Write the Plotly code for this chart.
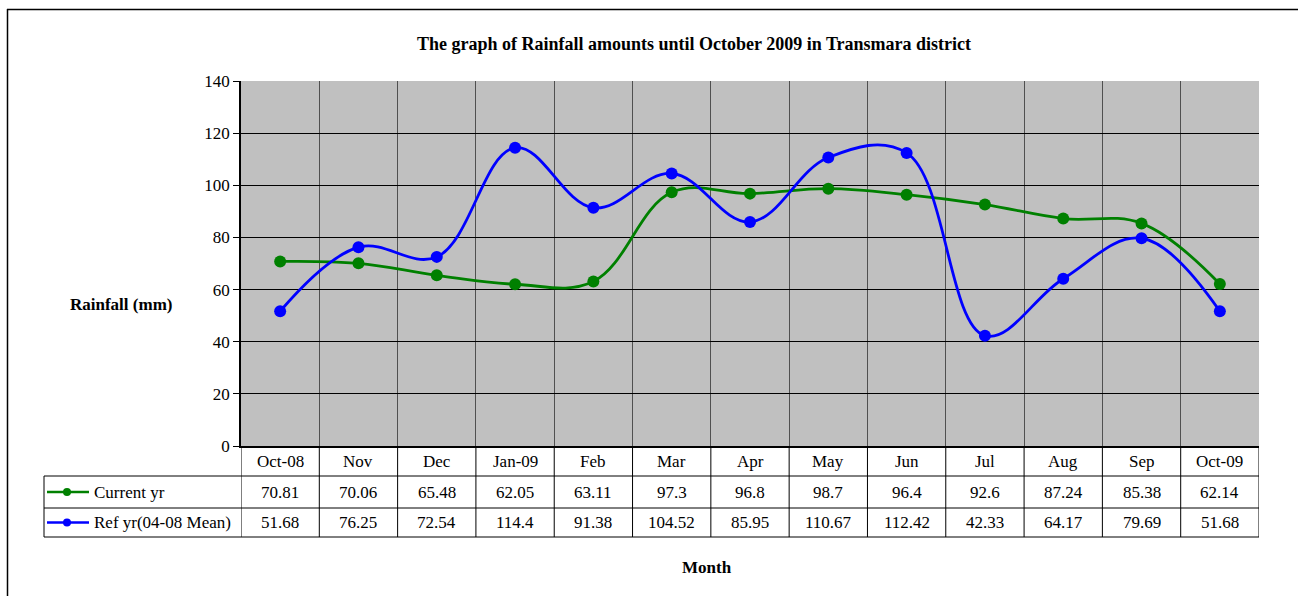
import plotly.graph_objects as go

months = ["Oct-08", "Nov", "Dec", "Jan-09", "Feb", "Mar", "Apr", "May", "Jun", "Jul", "Aug", "Sep", "Oct-09"]
current_yr = [70.81, 70.06, 65.48, 62.05, 63.11, 97.3, 96.8, 98.7, 96.4, 92.6, 87.24, 85.38, 62.14]
ref_yr = [51.68, 76.25, 72.54, 114.4, 91.38, 104.52, 85.95, 110.67, 112.42, 42.33, 64.17, 79.69, 51.68]
current_labels = ["70.81", "70.06", "65.48", "62.05", "63.11", "97.3", "96.8", "98.7", "96.4", "92.6", "87.24", "85.38", "62.14"]
ref_labels = ["51.68", "76.25", "72.54", "114.4", "91.38", "104.52", "85.95", "110.67", "112.42", "42.33", "64.17", "79.69", "51.68"]
series_names = ["Current yr", "Ref yr(04-08 Mean)"]
series_colors = ["#008000", "#0000FF"]

W, H = 1298, 596
L, R, T, B = 241, 39, 81, 150
PW, PH = W - L - R, H - T - B
FONT = "Liberation Serif"
TS = 17

def px(x):
    return (x - L) / PW

def py(y):
    return (H - B - y) / PH

xi = list(range(len(months)))

fig = go.Figure()
for name, vals, col in zip(series_names, [current_yr, ref_yr], series_colors):
    fig.add_trace(go.Scatter(
        x=xi, y=vals, name=name, mode="lines+markers",
        line=dict(color=col, width=2.8, shape="spline", smoothing=1.1),
        marker=dict(color=col, size=12), showlegend=False, cliponaxis=False))

shapes = []
ann = []
line_col = "#000000"
y_top, y_h1, y_r1, y_r2 = 446, 476, 508, 537
for yy in (y_h1, y_r1, y_r2):
    shapes.append(dict(type="line", xref="paper", yref="paper", x0=px(44), x1=1,
                       y0=py(yy), y1=py(yy), line=dict(color=line_col, width=1)))
for i in range(len(months) + 1):
    shapes.append(dict(type="line", xref="x", yref="paper", x0=i - 0.5, x1=i - 0.5, y0=0, y1=py(y_r2),
                       line=dict(color=line_col, width=1)))
shapes.append(dict(type="line", xref="paper", yref="paper", x0=px(44), x1=px(44), y0=py(y_h1), y1=py(y_r2),
                   line=dict(color=line_col, width=1)))
# outer border (top and left)
shapes.append(dict(type="line", xref="paper", yref="paper", x0=px(7), x1=px(W + 2), y0=py(9.5), y1=py(9.5),
                   line=dict(color="#000000", width=1.5)))
shapes.append(dict(type="line", xref="paper", yref="paper", x0=px(7.5), x1=px(7.5), y0=py(9), y1=py(H + 2),
                   line=dict(color="#000000", width=1.5)))

def text(x, y, s, xref="paper", size=TS, xanchor="center"):
    ann.append(dict(x=x, y=y, xref=xref, yref="paper", text=s, showarrow=False,
                    xanchor=xanchor, yanchor="middle",
                    font=dict(family=FONT, size=size, color="#000")))

for i, m in enumerate(months):
    text(i, py((y_top + y_h1) / 2), m, xref="x")
    text(i, py((y_h1 + y_r1) / 2), current_labels[i], xref="x")
    text(i, py((y_r1 + y_r2) / 2), ref_labels[i], xref="x")

for k, (name, col) in enumerate(zip(series_names, series_colors)):
    yc = py((y_h1 + y_r1) / 2) if k == 0 else py((y_r1 + y_r2) / 2)
    shapes.append(dict(type="line", xref="paper", yref="paper", x0=px(47), x1=px(89), y0=yc, y1=yc,
                       line=dict(color=col, width=2.5)))
    shapes.append(dict(type="circle", xref="paper", yref="paper", x0=px(63), x1=px(71), y0=yc - 4 / PH, y1=yc + 4 / PH,
                       fillcolor=col, line=dict(color=col, width=0)))
    text(px(92), yc, name, xanchor="left")

text(px(694), py(44), "<b>The graph of Rainfall amounts until October 2009 in Transmara district</b>", size=18)
text(px(121), py(304), "<b>Rainfall (mm)</b>", size=17)
text(px(707), py(567), "<b>Month</b>", size=17)

fig.update_layout(
    width=W, height=H,
    margin=dict(l=L, r=R, t=T, b=B, pad=0),
    paper_bgcolor="white", plot_bgcolor="#C0C0C0",
    shapes=shapes, annotations=ann,
    xaxis=dict(range=[-0.5, len(months) - 0.5], tickvals=[i - 0.5 for i in range(len(months) + 1)],
               ticktext=[""] * (len(months) + 1), showgrid=True, gridcolor="#505050", gridwidth=1,
               showline=True, linecolor="#000", linewidth=2, ticks="", zeroline=False, fixedrange=True),
    yaxis=dict(range=[0, 140], dtick=20, showgrid=True, gridcolor="#000", gridwidth=1,
               showline=True, linecolor="#000", linewidth=1.5, ticks="outside", ticklen=6, tickcolor="#000",
               tickfont=dict(family=FONT, size=17, color="#000"), zeroline=False, fixedrange=True),
    font=dict(family=FONT),
)

fig.write_html("out.html", config={"displayModeBar": False},
               post_script="document.body.style.margin='0';document.body.style.overflow='hidden';")
